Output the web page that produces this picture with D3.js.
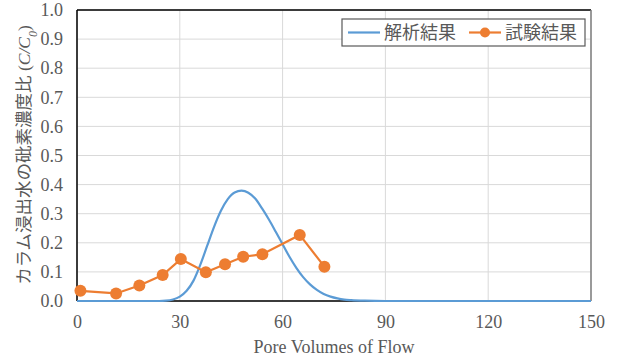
<!DOCTYPE html>
<html>
<head>
<meta charset="utf-8">
<script src="https://cdn.jsdelivr.net/npm/d3@7"></script>
<style>
  body { margin: 0; background: #fff; }
</style>
</head>
<body>
<div id="chart"></div>
<script>
// analysis curve (解析結果)
var calcX = [0, 10, 20, 24, 26, 28, 30, 32, 34, 36, 38, 40, 42, 44, 46, 48, 50, 52, 54, 56, 58, 60, 62, 64, 66, 68, 70, 72, 74, 76, 78, 80, 84, 90, 100, 120, 150];
var calcY = [0, 0, 0, 0, 0.001, 0.005, 0.015, 0.035, 0.07, 0.125, 0.19, 0.255, 0.31, 0.35, 0.373, 0.379, 0.372, 0.352, 0.318, 0.28, 0.238, 0.195, 0.152, 0.114, 0.082, 0.057, 0.038, 0.024, 0.015, 0.009, 0.005, 0.003, 0.001, 0, 0, 0, 0];

// test results (試験結果)
var testX = [1, 11.4, 18.2, 25, 30.3, 37.6, 43.2, 48.5, 54.1, 65, 72.2];
var testY = [0.035, 0.026, 0.053, 0.089, 0.144, 0.099, 0.126, 0.152, 0.161, 0.227, 0.118];

var xTicks = [0, 30, 60, 90, 120, 150];
var yTicks = [0, 0.1, 0.2, 0.3, 0.4, 0.5, 0.6, 0.7, 0.8, 0.9, 1.0];

var seriesNames = ["解析結果", "試験結果"];

var margin = {top: 10, right: 29, bottom: 57, left: 77},
    width = 620 - margin.left - margin.right,
    height = 358 - margin.top - margin.bottom;

var serif = "'Liberation Serif', 'Times New Roman', serif";
var jp = "'Noto Sans CJK JP', sans-serif";
var blue = "#5b9bd5", orange = "#ed7d31", grey = "#595959";

var root = d3.select("#chart")
  .append("svg")
    .attr("width", 620)
    .attr("height", 358);

var svg = root.append("g")
    .attr("transform", "translate(" + margin.left + "," + margin.top + ")");

var x = d3.scaleLinear().domain([0, 150]).range([0, width]);
var y = d3.scaleLinear().domain([0, 1]).range([height, 0]);

// grid
svg.selectAll("hgrid")
  .data(yTicks)
  .enter()
  .append("line")
    .attr("x1", 0).attr("x2", width)
    .attr("y1", d => y(d)).attr("y2", d => y(d))
    .attr("stroke", "#d9d9d9").attr("stroke-width", 1);
svg.selectAll("vgrid")
  .data(xTicks)
  .enter()
  .append("line")
    .attr("x1", d => x(d)).attr("x2", d => x(d))
    .attr("y1", 0).attr("y2", height)
    .attr("stroke", "#d9d9d9").attr("stroke-width", 1);

// frame
svg.append("line").attr("x1", 0).attr("x2", width).attr("y1", 0).attr("y2", 0)
  .attr("stroke", "#000").attr("stroke-width", 1.5);
svg.append("line").attr("x1", width).attr("x2", width).attr("y1", 0).attr("y2", height)
  .attr("stroke", "#7f7f7f").attr("stroke-width", 1.5);
svg.append("line").attr("x1", 0).attr("x2", 0).attr("y1", 0).attr("y2", height)
  .attr("stroke", "#000").attr("stroke-width", 1.5);
svg.append("line").attr("x1", 0).attr("x2", width).attr("y1", height).attr("y2", height)
  .attr("stroke", "#000").attr("stroke-width", 1.5);

// axes
var xAxis = svg.append("g")
  .attr("transform", "translate(0," + height + ")")
  .call(d3.axisBottom(x).tickValues(xTicks).tickSize(0).tickPadding(14));
xAxis.select(".domain").remove();
xAxis.selectAll("text")
  .style("font-family", serif).style("font-size", "18px").attr("fill", grey);

var yAxis = svg.append("g")
  .call(d3.axisLeft(y).tickValues(yTicks).tickFormat(d3.format(".1f")).tickSize(0).tickPadding(14));
yAxis.select(".domain").remove();
yAxis.selectAll("text")
  .style("font-family", serif).style("font-size", "18px").attr("fill", grey);

// analysis line
var calc = calcX.map((d, i) => ({x: d, y: calcY[i]}));
svg.append("path")
  .datum(calc)
  .attr("fill", "none")
  .attr("stroke", blue)
  .attr("stroke-width", 2.2)
  .attr("d", d3.line().x(d => x(d.x)).y(d => y(d.y)).curve(d3.curveMonotoneX));

// test line + markers
var test = testX.map((d, i) => ({x: d, y: testY[i]}));
svg.append("path")
  .datum(test)
  .attr("fill", "none")
  .attr("stroke", orange)
  .attr("stroke-width", 2.2)
  .attr("d", d3.line().x(d => x(d.x)).y(d => y(d.y)));
svg.selectAll("mydot")
  .data(test)
  .enter()
  .append("circle")
    .attr("cx", d => x(d.x))
    .attr("cy", d => y(d.y))
    .attr("r", 6)
    .attr("fill", orange);

// axis titles
root.append("text")
  .attr("x", margin.left + width / 2)
  .attr("y", 353)
  .attr("text-anchor", "middle")
  .style("font-family", serif).style("font-size", "18px")
  .attr("fill", grey)
  .text("Pore Volumes of Flow");

var yl = root.append("text")
  .attr("transform", "translate(30,155) rotate(-90)")
  .attr("text-anchor", "middle")
  .attr("fill", grey)
  .style("font-size", "17.5px");
yl.append("tspan").style("font-family", jp).text("カラム浸出水の砒素濃度比");
yl.append("tspan").style("font-family", serif).text(" (");
yl.append("tspan").style("font-family", serif).style("font-style", "italic").text("C/C");
yl.append("tspan").style("font-family", serif).style("font-style", "italic")
  .style("font-size", "12px").attr("baseline-shift", "sub").text("0");
yl.append("tspan").style("font-family", serif).text(")");

// legend
var lg = svg.append("g").attr("transform", "translate(265,9)");
lg.append("rect")
  .attr("width", 243).attr("height", 27)
  .attr("fill", "#fff").attr("stroke", grey).attr("stroke-width", 1.2);
lg.append("line").attr("x1", 6).attr("x2", 38).attr("y1", 13.5).attr("y2", 13.5)
  .attr("stroke", blue).attr("stroke-width", 2.2);
lg.append("text").attr("x", 42).attr("y", 20)
  .style("font-family", jp).style("font-size", "18px").attr("fill", grey)
  .text(seriesNames[0]);
lg.append("line").attr("x1", 127).attr("x2", 159).attr("y1", 13.5).attr("y2", 13.5)
  .attr("stroke", orange).attr("stroke-width", 2.2);
lg.append("circle").attr("cx", 143).attr("cy", 13.5).attr("r", 5).attr("fill", orange);
lg.append("text").attr("x", 163).attr("y", 20)
  .style("font-family", jp).style("font-size", "18px").attr("fill", grey)
  .text(seriesNames[1]);
</script>
</body>
</html>
